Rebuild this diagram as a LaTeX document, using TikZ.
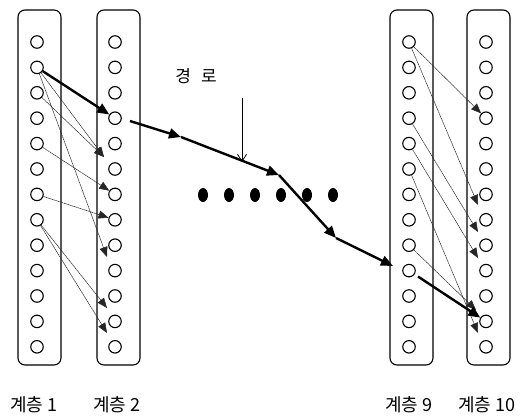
\documentclass[tikz,border=0pt]{standalone}
\usepackage{fontspec}
\newfontfamily\kr{Noto Sans CJK KR}
\usetikzlibrary{arrows.meta,shapes.geometric}
\newcommand{\gapsm}{\hspace{0.25em}}
\tikzset{
  layerbox/.style={draw, line width=1.1pt, rounded corners=7pt},
  unit/.style={circle, draw, line width=1.1pt, minimum size=12.5pt, inner sep=0pt},
  pathseg/.style={line width=2.4pt, -{Triangle[length=12pt,width=10pt]}},
  link/.style={line width=0.55pt, black!85, dash pattern=on 1.6pt off 0.5pt, -{Triangle[length=10pt,width=8pt]}},
  pointer/.style={line width=0.8pt, -{Straight Barb[length=7pt,width=9pt]}},
  dot/.style={ellipse, fill, minimum width=10pt, minimum height=14pt, inner sep=0pt},
  caption/.style={font=\kr\fontsize{18}{20}\selectfont, inner sep=0pt}
}
\begin{document}
\begin{tikzpicture}[x=1pt,y=-1pt]
\useasboundingbox (0,0) rectangle (522,416);

% four layer columns
\draw[layerbox] (18,10) rectangle (61,365);
\draw[layerbox] (97,10) rectangle (140,365);
\draw[layerbox] (390,10) rectangle (433,365);
\draw[layerbox] (467,10) rectangle (510,365);

% units of each layer
\foreach \i in {1,...,13} {
  \pgfmathsetmacro{\yy}{42+25.4*(\i-1)}
  \node[unit] (a\i) at (37,\yy) {};
  \node[unit] (b\i) at (115,\yy) {};
  \node[unit] (c\i) at (409,\yy) {};
  \node[unit] (d\i) at (486,\yy) {};
}

% links between layer 1 and layer 2
\coordinate (t1) at (104,157);
\coordinate (t2) at (107,257);
\coordinate (t3) at (107,308);
\coordinate (t4) at (107,333);
\draw[link] (a2) -- (t1);
\draw[link] (a3) -- (t1);
\draw[link] (a2) -- (t2);
\draw[link] (a5) -- (b7);
\draw[link] (a7) -- (b8);
\draw[link] (a8) -- (t3);
\draw[link] (a8) -- (t4);

% links between layer 9 and layer 10
\coordinate (s1) at (478,205);
\coordinate (s2) at (478,232);
\coordinate (s3) at (478,258);
\coordinate (s4) at (476,310);
\coordinate (s5) at (478,333);
\draw[link] (c1) -- (d4);
\draw[link] (c1) -- (s1);
\draw[link] (c4) -- (s2);
\draw[link] (c5) -- (s3);
\draw[link] (c9) -- (s4);
\draw[link] (c6) -- (s5);

% the highlighted path
\coordinate (p0) at (130,121);
\coordinate (p1) at (181,137);
\coordinate (p2) at (279,175);
\coordinate (p3) at (336,238);
\coordinate (p4) at (393,266);
\draw[pathseg] (a2) -- (b4);
\draw[pathseg] (p0) -- (p1);
\draw[pathseg] (p1) -- (p2);
\draw[pathseg] (p2) -- (p3);
\draw[pathseg] (p3) -- (p4);
\draw[pathseg, shorten <=4pt] (c10) -- (d12);

% label pointing at the path
\node[font=\kr\fontsize{17}{19}\selectfont, inner sep=0pt] (lbl) at (196,76) {경\hspace{0.6em}로};
\coordinate (q0) at (242,98);
\coordinate (q1) at (242,162);
\draw[pointer] (q0) -- (q1);

% ellipsis between layers
\foreach \k/\xx in {1/203,2/229,3/255,4/281,5/307,6/333}
  \node[dot] (e\k) at (\xx,195) {};

% layer captions
\node[caption] (l1) at (34,405) {계층\gapsm 1};
\node[caption] (l2) at (117,405) {계층\gapsm 2};
\node[caption] (l9) at (409,405) {계층\gapsm 9};
\node[caption] (l10) at (487,405) {계층\gapsm 10};
\end{tikzpicture}
\end{document}
